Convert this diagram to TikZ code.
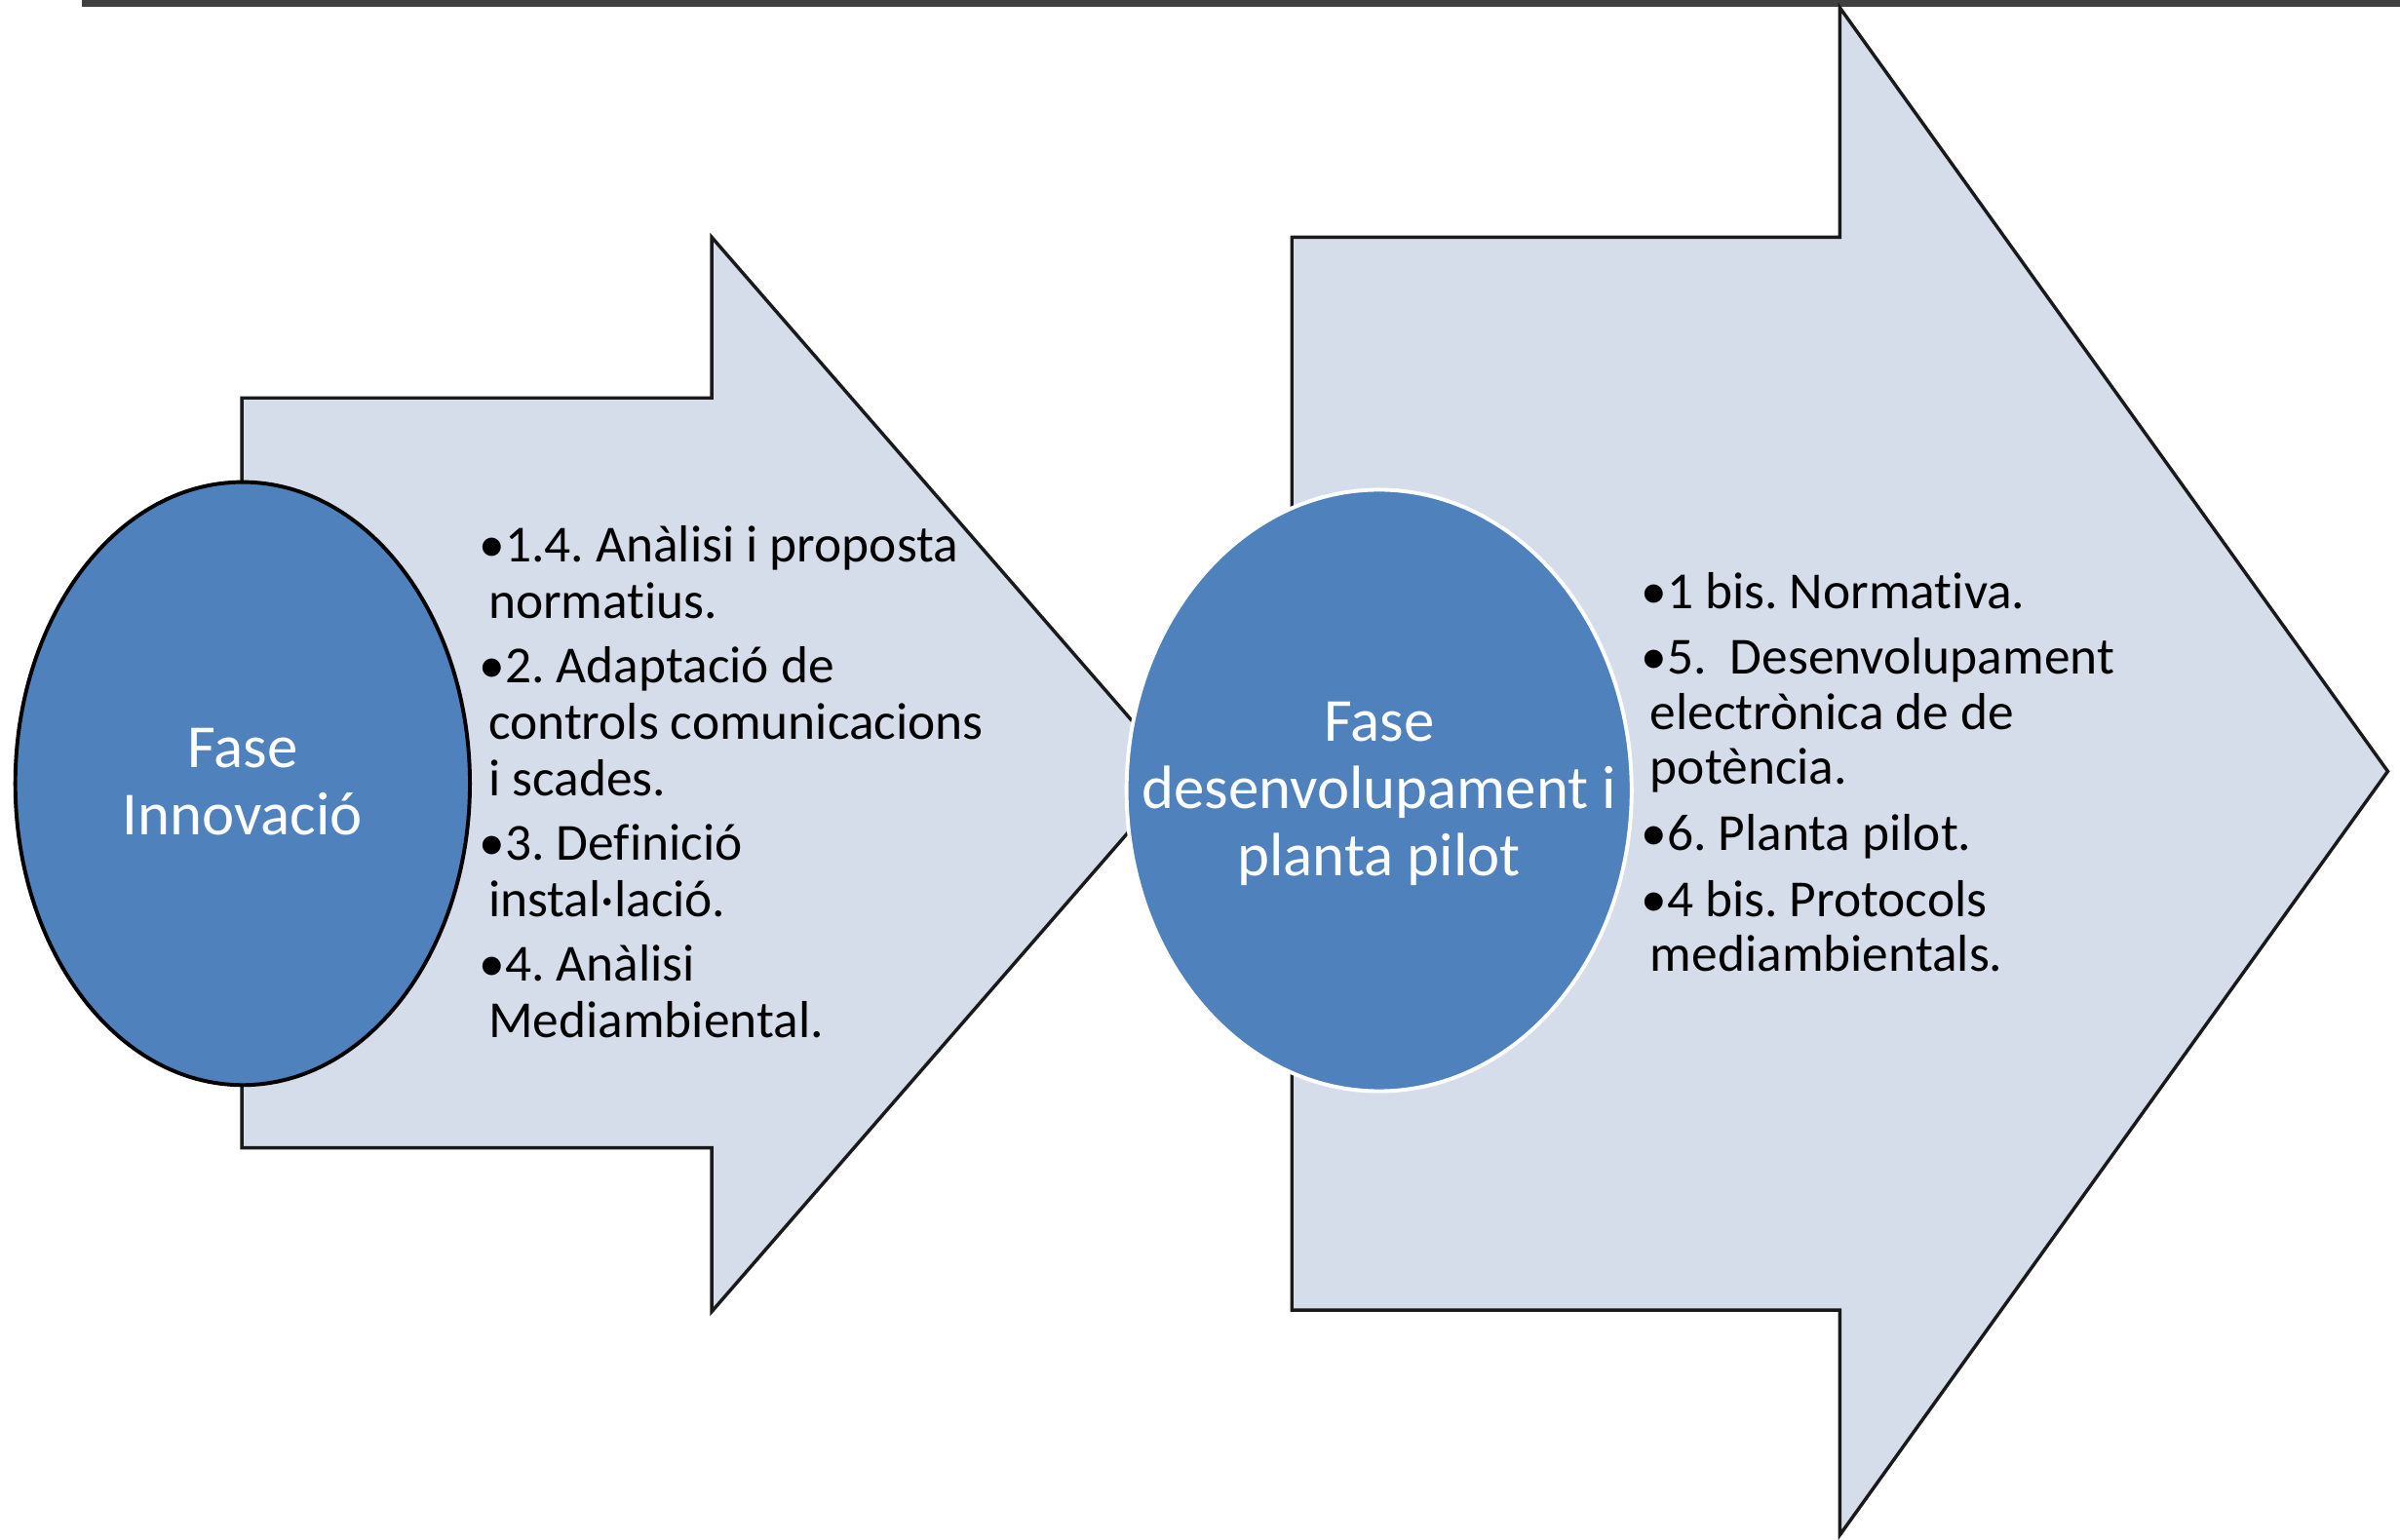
\documentclass[tikz,border=0pt]{standalone}
\usepackage{fontspec}
\setmainfont{Carlito}[Ligatures={NoCommon}]
\usetikzlibrary{shapes.geometric}
\definecolor{arrowfill}{HTML}{D5DCEA}
\definecolor{ellfill}{HTML}{4F81BD}
\definecolor{barcol}{HTML}{404040}
\definecolor{edgecol}{HTML}{1A1A1A}
\frenchspacing
\begin{document}
\begin{tikzpicture}[x=1pt,y=-1pt,
  arrowshape/.style={fill=arrowfill,draw=edgecol,line width=2.2pt,line join=miter},
  phase/.style={ellipse,fill=ellfill,inner sep=0pt,line width=2.5pt},
  phasetext/.style={inner sep=0pt,align=center,text=white,font=\fontsize{40}{44}\selectfont},
  items/.style={inner sep=0pt,align=left,anchor=west,text=black}]
\useasboundingbox (0,0) rectangle (1568,1006);
\fill[barcol] (53.5,0) rectangle (1568,4.5);
\draw[arrowshape] (158,260) -- (465,260) -- (465,155) -- (770,506) -- (465,857) -- (465,750) -- (158,750) -- cycle;
\draw[arrowshape] (844,155) -- (1202,155) -- (1202,5) -- (1560,504) -- (1202,1003) -- (1202,856) -- (844,856) -- cycle;
\node[phase,draw=black,minimum width=297pt,minimum height=394pt] (innov) at (158.5,512) {};
\node[phasetext] (innovtxt) at ([yshift=1pt]innov.center) {Fase\\Innovació};
\node[phase,draw=white,minimum width=330pt,minimum height=393pt] (desen) at (901,516.5) {};
\node[phasetext] (desentxt) at ([yshift=-2pt]desen.center) {Fase\\desenvolupament i\\planta pilot};
\node[items,font=\fontsize{34}{37}\selectfont] (items1) at (319,511)
  {\hspace*{-6pt}•1.4. Anàlisi i proposta\\normatius.\\[5pt]
   \hspace*{-6pt}•2. Adaptació de\\controls comunicacions\\i scades.\\[5pt]
   \hspace*{-6pt}•3. Definició\\instal·lació.\\[5pt]
   \hspace*{-6pt}•4. Anàlisi\\Mediambiental.};
\node[items,font=\fontsize{34}{36}\selectfont] (items2) at (1078,504.5)
  {\hspace*{-6pt}•1 bis. Normativa.\\[7pt]
   \hspace*{-6pt}•5.\ \ Desenvolupament\\electrònica de de\\potència.\\[7pt]
   \hspace*{-6pt}•6. Planta pilot.\\[7pt]
   \hspace*{-6pt}•4 bis. Protocols\\mediambientals.};
\end{tikzpicture}
\end{document}
